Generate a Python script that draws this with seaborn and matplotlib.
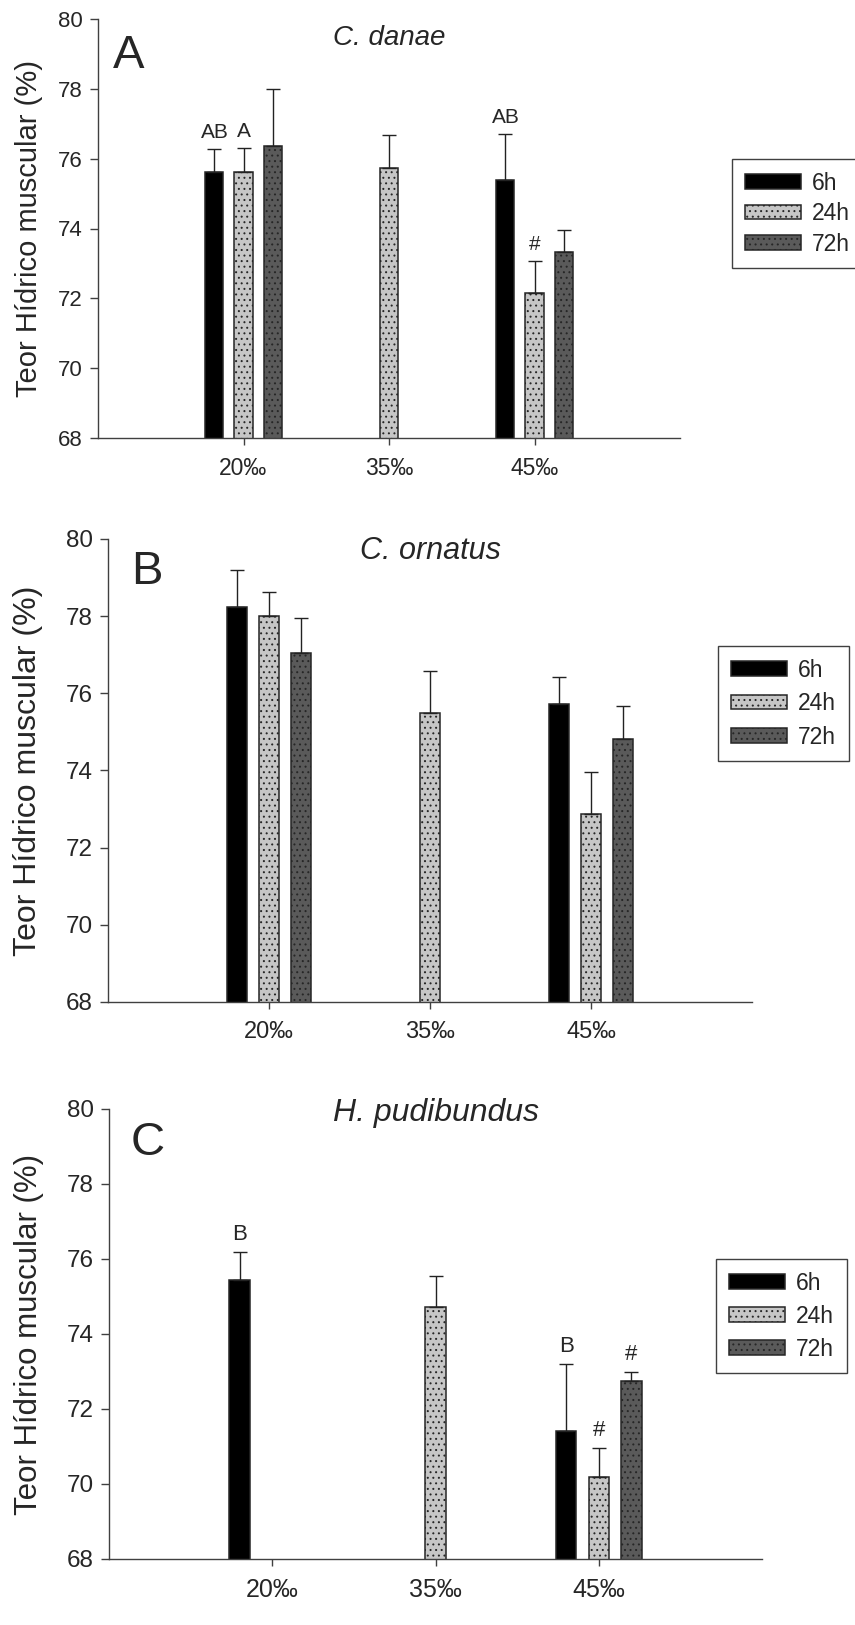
import numpy as np
import pandas as pd
import matplotlib
matplotlib.use("Agg")
import matplotlib.pyplot as plt
from matplotlib.patches import Patch
import seaborn as sns

sns.set_style("ticks")
plt.rcParams['font.family'] = ['Liberation Sans', 'DejaVu Sans']
plt.rcParams['hatch.linewidth'] = 0.7

# categories
sal_labels = ["20‰", "35‰", "45‰"]
times = ["6h", "24h", "72h"]
nan = np.nan

# Panel A - C. danae (mean, SE up)
a_6h = [75.62, nan, 75.40]
a_24h = [75.62, 75.73, 72.14]
a_72h = [76.35, nan, 73.33]
a_err_6h = [0.66, nan, 1.32]
a_err_24h = [0.69, 0.94, 0.93]
a_err_72h = [1.64, nan, 0.64]

# Panel B - C. ornatus
b_6h = [78.25, nan, 75.72]
b_24h = [78.01, 75.48, 72.86]
b_72h = [77.05, nan, 74.81]
b_err_6h = [0.95, nan, 0.70]
b_err_24h = [0.62, 1.11, 1.11]
b_err_72h = [0.89, nan, 0.87]

# Panel C - H. pudibundus
c_6h = [75.44, nan, 71.42]
c_24h = [nan, 74.73, 70.20]
c_72h = [nan, nan, 72.75]
c_err_6h = [0.75, nan, 1.77]
c_err_24h = [nan, 0.82, 0.77]
c_err_72h = [nan, nan, 0.24]

# significance marks (salinity, time, text)
a_marks = [("20‰", "6h", "AB"), ("20‰", "24h", "A"), ("45‰", "6h", "AB"), ("45‰", "24h", "#")]
c_marks = [("20‰", "6h", "B"), ("45‰", "6h", "B"), ("45‰", "24h", "#"), ("45‰", "72h", "#")]

colors = {"6h": "#000000", "24h": "#c6c6c6", "72h": "#5a5a5a"}
hatches = {"6h": None, "24h": "...", "72h": "..."}


def make_df(means, errs):
    rows = []
    for t, m, e in zip(times, means, errs):
        for s, mv, ev in zip(sal_labels, m, e):
            rows.append({"sal": s, "time": t, "mean": mv, "err": ev})
    return pd.DataFrame(rows).dropna()


panels = [
    dict(df=make_df([a_6h, a_24h, a_72h], [a_err_6h, a_err_24h, a_err_72h]),
         rect=(98, 19, 680, 438), letter="A", title="C. danae", marks=a_marks,
         ytick=16, xtick=16.5, ylab=21, tsize=20, lsize=34, msize=15,
         ty=0.955, lx=0.053, ly=0.912, leg=(732, 159), lspace=0.33, ylx=-0.095),
    dict(df=make_df([b_6h, b_24h, b_72h], [b_err_6h, b_err_24h, b_err_72h]),
         rect=(108, 539, 752, 1002), letter="B", title="C. ornatus", marks=[],
         ytick=17.5, xtick=17, ylab=23, tsize=22, lsize=34, msize=15,
         ty=0.974, lx=0.061, ly=0.929, leg=(718, 646), lspace=0.46, ylx=-0.101),
    dict(df=make_df([c_6h, c_24h, c_72h], [c_err_6h, c_err_24h, c_err_72h]),
         rect=(109, 1109, 762, 1559), letter="C", title="H. pudibundus", marks=c_marks,
         ytick=17.5, xtick=18, ylab=22.5, tsize=23, lsize=34, msize=16,
         ty=0.991, lx=0.060, ly=0.924, leg=(716, 1259), lspace=0.44, ylx=-0.0995),
]

W, H = 855, 1625
fig = plt.figure(figsize=(W / 100, H / 100), dpi=100)
offsets = {"6h": -0.2, "24h": 0.0, "72h": 0.2}

for p in panels:
    l, t, r, b = p["rect"]
    ax = fig.add_axes([l / W, 1 - b / H, (r - l) / W, (b - t) / H])
    df = p["df"]
    sns.barplot(data=df, x="sal", y="mean", hue="time", order=sal_labels,
                hue_order=times, palette=colors, saturation=1, width=0.6, gap=0.375,
                errorbar=None, edgecolor="#262626", linewidth=1.1, legend=False, ax=ax)
    for cont, tm in zip(ax.containers, times):
        for bar in cont:
            if hatches[tm]:
                bar.set_hatch(hatches[tm])

    # upper error bars only
    xs = [sal_labels.index(s) + offsets[tm] for s, tm in zip(df["sal"], df["time"])]
    ax.errorbar(xs, df["mean"], yerr=[np.zeros(len(df)), df["err"]], fmt="none",
                ecolor="#222222", elinewidth=1.0, capsize=4.7, capthick=1.0, zorder=3)

    for s, tm, txt in p["marks"]:
        row = df[(df["sal"] == s) & (df["time"] == tm)].iloc[0]
        ax.annotate(txt, (sal_labels.index(s) + offsets[tm], row["mean"] + row["err"]),
                    xytext=(0, 5), textcoords="offset points", ha="center", va="bottom",
                    fontsize=p["msize"])

    ax.set_xlim(-1, 3)
    ax.set_ylim(68, 80)
    ax.set_yticks(np.arange(68, 81, 2))
    ax.set_xlabel("")
    ax.set_ylabel("Teor Hídrico muscular (%)", fontsize=p["ylab"])
    ax.yaxis.set_label_coords(p["ylx"], 0.5)
    ax.tick_params(axis="y", direction="out", length=6, width=1, pad=5,
                   labelsize=p["ytick"], color="#404040")
    ax.tick_params(axis="x", direction="out", length=5, width=1, pad=9,
                   labelsize=p["xtick"], color="#404040")
    sns.despine(ax=ax)
    for sp in ["left", "bottom"]:
        ax.spines[sp].set_color("#404040")
        ax.spines[sp].set_linewidth(1.0)

    ax.text(1, p["ty"], p["title"], transform=ax.get_xaxis_transform(), ha="center",
            va="center", fontsize=p["tsize"], style="italic")
    ax.text(p["lx"], p["ly"], p["letter"], transform=ax.transAxes, ha="center",
            va="center", fontsize=p["lsize"])

    handles = [Patch(facecolor=colors[tm], edgecolor="#262626", hatch=hatches[tm],
                     linewidth=1.1, label=tm) for tm in times]
    lx, ly = p["leg"]
    leg = ax.legend(handles=handles, loc="upper left", bbox_to_anchor=(lx / W, 1 - ly / H),
                    bbox_transform=fig.transFigure, borderaxespad=0, fontsize=16.5,
                    handlelength=2.45, handleheight=0.6, handletextpad=0.5,
                    labelspacing=p["lspace"], borderpad=0.55, fancybox=False,
                    framealpha=1, edgecolor="#404040")
    leg.get_frame().set_linewidth(1.0)

fig.savefig("out.png", dpi=100)
